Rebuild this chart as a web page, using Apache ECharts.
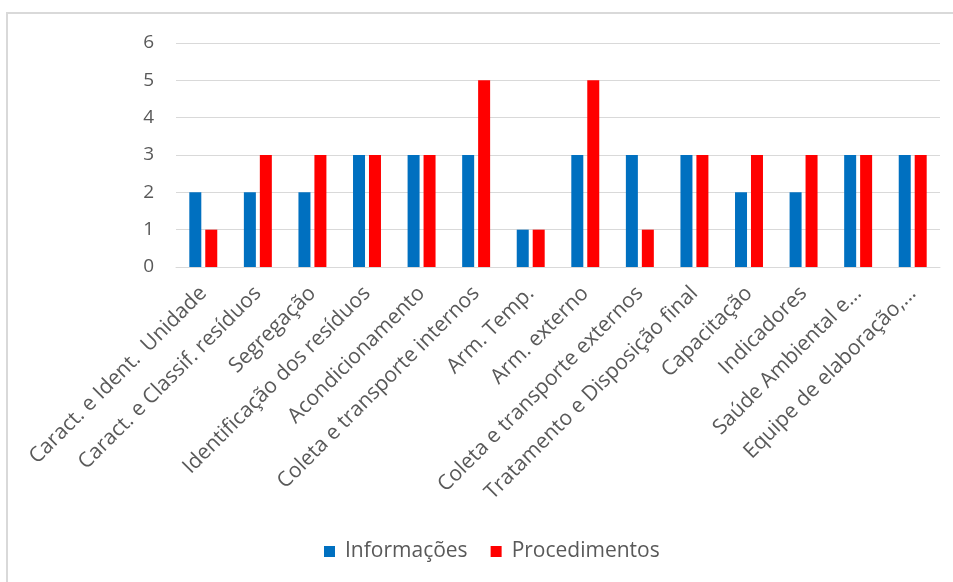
<!DOCTYPE html>
<html>
<head>
<meta charset="utf-8">
<script src="https://cdn.jsdelivr.net/npm/echarts@6/dist/echarts.min.js"></script>
<style>
  html, body { margin: 0; padding: 0; background: #fff; }
  #frame { position: absolute; left: 6px; top: 12px; width: 947px; height: 570px;
           border-top: 2px solid #d9d9d9; border-left: 2px solid #d9d9d9; box-sizing: border-box; }
  #chart { position: absolute; left: 0; top: 0; width: 953px; height: 582px; }
</style>
</head>
<body>
<div id="frame"></div>
<div id="chart"></div>
<script>
// Etapas avaliadas no plano de gerenciamento
const categories = [
  'Caract. e Ident.  Unidade',
  'Caract. e Classif. resíduos',
  'Segregação',
  'Identificação dos resíduos',
  'Acondicionamento',
  'Coleta e transporte internos',
  'Arm. Temp.',
  'Arm. externo',
  'Coleta e transporte externos',
  'Tratamento e Disposição final',
  'Capacitação',
  'Indicadores',
  'Saúde Ambiental e...',
  'Equipe de elaboração,...'
];
const informacoes   = [2, 2, 2, 3, 3, 3, 1, 3, 3, 3, 2, 2, 3, 3];
const procedimentos = [1, 3, 3, 3, 3, 5, 1, 5, 1, 3, 3, 3, 3, 3];
const yTicks = { min: 0, max: 6, interval: 1 };

const chart = echarts.init(document.getElementById('chart'), null, { renderer: 'canvas' });
const font = '"Open Sans", "Noto Sans", sans-serif';

chart.setOption({
  animation: false,
  textStyle: { fontFamily: font },
  grid: { left: 176, right: 13, top: 43, bottom: 315, containLabel: false },
  legend: {
    bottom: 15,
    left: 319,
    itemWidth: 11,
    itemHeight: 11,
    itemGap: 23,
    icon: 'rect',
    textStyle: { color: '#595959', fontSize: 21, fontFamily: font, padding: [0, 0, 0, 5] },
    data: ['Informações', 'Procedimentos']
  },
  xAxis: {
    type: 'category',
    data: categories,
    axisLine: { show: true, lineStyle: { color: '#d9d9d9', width: 1 } },
    axisTick: { show: false },
    axisLabel: {
      interval: 0,
      rotate: 45,
      margin: 23,
      color: '#595959',
      fontSize: 21,
      fontFamily: font
    }
  },
  yAxis: {
    type: 'value',
    min: yTicks.min,
    max: yTicks.max,
    interval: yTicks.interval,
    axisLine: { show: false },
    axisTick: { show: false },
    axisLabel: { color: '#595959', fontSize: 19, margin: 22, fontFamily: font },
    splitLine: { lineStyle: { color: '#d9d9d9', width: 1 } }
  },
  series: [
    {
      name: 'Informações',
      type: 'bar',
      data: informacoes,
      barWidth: 12,
      barGap: '33%',
      itemStyle: { color: '#0070c0' }
    },
    {
      name: 'Procedimentos',
      type: 'bar',
      data: procedimentos,
      barWidth: 12,
      barGap: '33%',
      itemStyle: { color: '#ff0000' }
    }
  ]
});
</script>
</body>
</html>
